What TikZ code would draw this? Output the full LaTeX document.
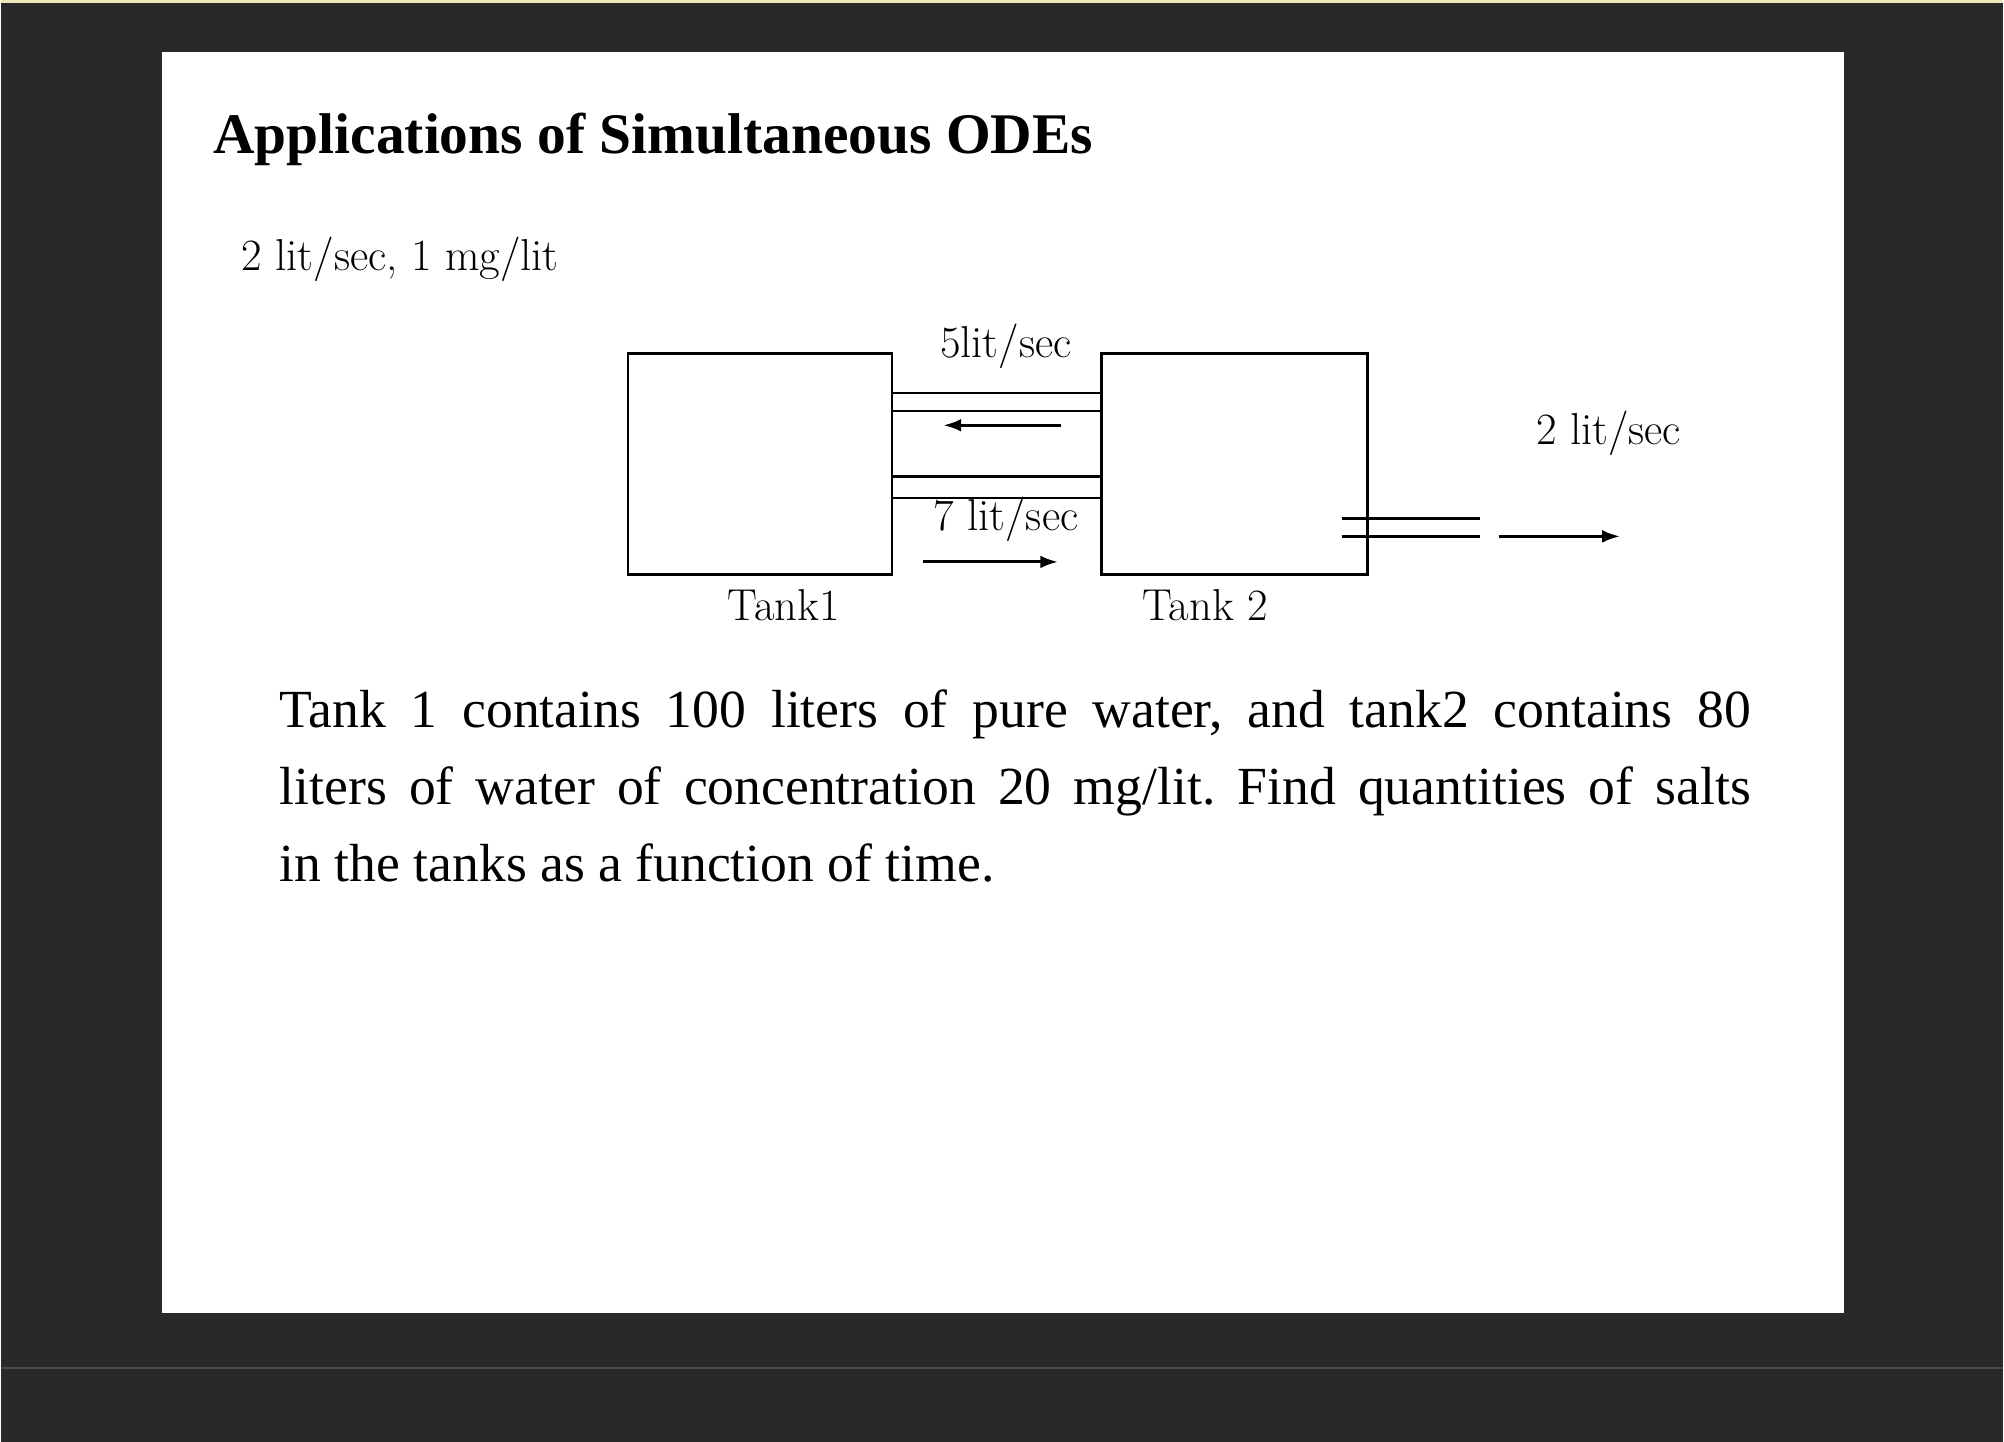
\documentclass[tikz,border=0pt]{standalone}
\usepackage{fontspec}
\setmainfont{Liberation Serif}
\newfontfamily\lmr{Latin Modern Roman}
\usetikzlibrary{arrows.meta}
\begin{document}
\begin{tikzpicture}[x=0.5pt,y=0.5pt,
  tank/.style={draw,line width=1pt},
  pipe/.style={line width=0.9pt},
  flow/.style={line width=1.2pt,-{Latex[length=7pt,width=5pt]}},
  lab/.style={font=\lmr\fontsize{17.5}{20}\selectfont,inner sep=0pt}]
\fill[black!84] (0,0) rectangle (1568,-1129);
\fill[white] (126,-41) rectangle (1443,-1028);
\draw[black!70,line width=0.6pt] (0,-1071) -- (1568,-1071);
\fill[black!30!yellow!30] (0,0) rectangle (1568,-2);
\node[anchor=base west,inner sep=0pt,font=\bfseries\fontsize{22.5}{24}\selectfont] (title) at (166,-120) {Applications of Simultaneous ODEs};
\node[lab,anchor=west] (in) at (188,-203) {2 lit/sec, 1 mg/lit};
\node[tank,minimum width=103.5pt,minimum height=86.5pt,inner sep=0pt] (t1) at (594.5,-363.5) {};
\node[tank,minimum width=104pt,minimum height=86.5pt,inner sep=0pt] (t2) at (966,-363.5) {};
\coordinate (a1) at (698,-308); \coordinate (b1) at (862,-308);
\coordinate (a2) at (698,-322); \coordinate (b2) at (862,-322);
\coordinate (a3) at (698,-373); \coordinate (b3) at (862,-373);
\coordinate (a4) at (698,-390); \coordinate (b4) at (862,-390);
\draw[pipe] (a1)--(b1) (a2)--(b2) (a3)--(b3) (a4)--(b4);
\coordinate (o1) at (1050,-406); \coordinate (o2) at (1158,-406);
\coordinate (o3) at (1050,-420); \coordinate (o4) at (1158,-420);
\draw[pipe] (o1)--(o2) (o3)--(o4);
\coordinate (f1s) at (830,-333); \coordinate (f1e) at (738,-333);
\coordinate (f2s) at (722,-440); \coordinate (f2e) at (828,-440);
\coordinate (f3s) at (1173,-420); \coordinate (f3e) at (1268,-420);
\draw[flow] (f1s)--(f1e);
\draw[flow] (f2s)--(f2e);
\draw[flow] (f3s)--(f3e);
\node[lab] (l5) at (787,-271) {5lit/sec};
\node[lab] (l7) at (787,-407) {7 lit/sec};
\node[lab] (l2) at (1259,-339) {2 lit/sec};
\node[lab] (n1) at (613,-474) {Tank1};
\node[lab] (n2) at (943,-474) {Tank 2};
\node[anchor=north west,inner sep=0pt,text width=576pt,align=justify,font=\frenchspacing\fontsize{21}{30}\selectfont] (para) at (218,-540)
{Tank 1 contains 100 liters of pure water, and tank2 contains 80\linebreak liters of water of concentration 20 mg/lit. Find quantities of salts\linebreak in the tanks as a function of time.};
\end{tikzpicture}
\end{document}
